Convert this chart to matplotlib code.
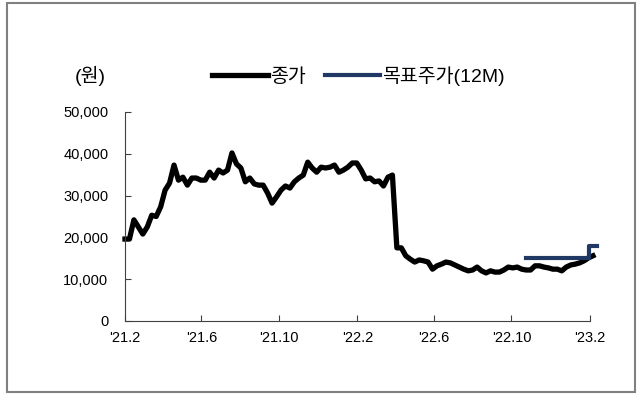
import pandas as pd
import matplotlib.pyplot as plt
from matplotlib.patches import Rectangle

plt.rcParams['font.family'] = ['Liberation Sans', 'Noto Sans CJK KR']
plt.rcParams['axes.unicode_minus'] = False

# 종가 (주간, 원)
close_start = '2021-02-01'
close = [
    19600, 19600, 24200, 22500, 20800, 22500, 25300, 25000, 27300, 31300,
    33000, 37300, 33700, 34400, 32500, 34200, 34200, 33700, 33700, 35600,
    34200, 36100, 35400, 36100, 40200, 37600, 36600, 33300, 34200, 32800,
    32500, 32500, 30600, 28200, 29700, 31300, 32300, 31800, 33300, 34200,
    34900, 38000, 36600, 35600, 36800, 36600, 36800, 37300, 35600, 36100,
    36800, 37800, 37800, 36100, 34000, 34200, 33300, 33500, 32300, 34400,
    34900, 17500, 17500, 15600, 14800, 14100, 14600, 14400, 14100, 12400,
    13200, 13600, 14100, 13900, 13400, 12900, 12400, 12000, 12200, 12900,
    12000, 11500, 12000, 11700, 11700, 12200, 12900, 12700, 12900, 12400,
    12200, 12200, 13200, 13200, 12900, 12700, 12400, 12400, 12000, 12900,
    13400, 13600, 13900, 14400, 15100, 15600,
]
close_dates = pd.date_range(close_start, periods=len(close), freq='7D')

# 목표주가 (12M)
target_dates = pd.to_datetime(['2022-10-24', '2023-01-30', '2023-02-12'])
target = [15000, 18000, 18000]

xticks = pd.to_datetime(['2021-02-01', '2021-06-01', '2021-10-01', '2022-02-01',
                         '2022-06-01', '2022-10-01', '2023-02-01'])
xlabels = ["'21.2", "'21.6", "'21.10", "'22.2", "'22.6", "'22.10", "'23.2"]

fig = plt.figure(figsize=(6.39, 3.96), dpi=100)
ax = fig.add_axes([0.1956, 0.1894, 0.7274, 0.5278])

ax.plot(close_dates, close, color='black', linewidth=3.8, label='종가',
        solid_joinstyle='round', clip_on=False)
ax.plot(target_dates, target, color='#1f3864', linewidth=3.0, label='목표주가(12M)',
        drawstyle='steps-post', clip_on=False)

ax.set_xlim(xticks[0], xticks[-1])
ax.set_ylim(0, 50000)
ax.set_yticks(range(0, 50001, 10000))
ax.set_yticklabels([f'{v:,}' for v in range(0, 50001, 10000)])
ax.set_xticks(xticks)
ax.set_xticklabels(xlabels)

for s in ['top', 'right']:
    ax.spines[s].set_visible(False)
for s in ['left', 'bottom']:
    ax.spines[s].set_color('#404040')
    ax.spines[s].set_linewidth(0.8)
ax.tick_params(axis='both', direction='in', length=4, color='#404040',
               labelsize=10.5, labelcolor='black')
ax.tick_params(axis='y', pad=12)
ax.tick_params(axis='x', pad=7)

fig.text(0.117, 0.808, '(원)', fontsize=14, ha='left', va='center')
fig.legend(loc='center', bbox_to_anchor=(0.561, 0.808), ncol=2, frameon=False,
           fontsize=14, handlelength=2.85, handletextpad=0.1, columnspacing=1.0)

fig.patches.append(Rectangle((0.011, 0.010), 0.983, 0.982, transform=fig.transFigure,
                             fill=False, edgecolor='#808080', linewidth=1.5))

fig.savefig('out.png', dpi=100)
